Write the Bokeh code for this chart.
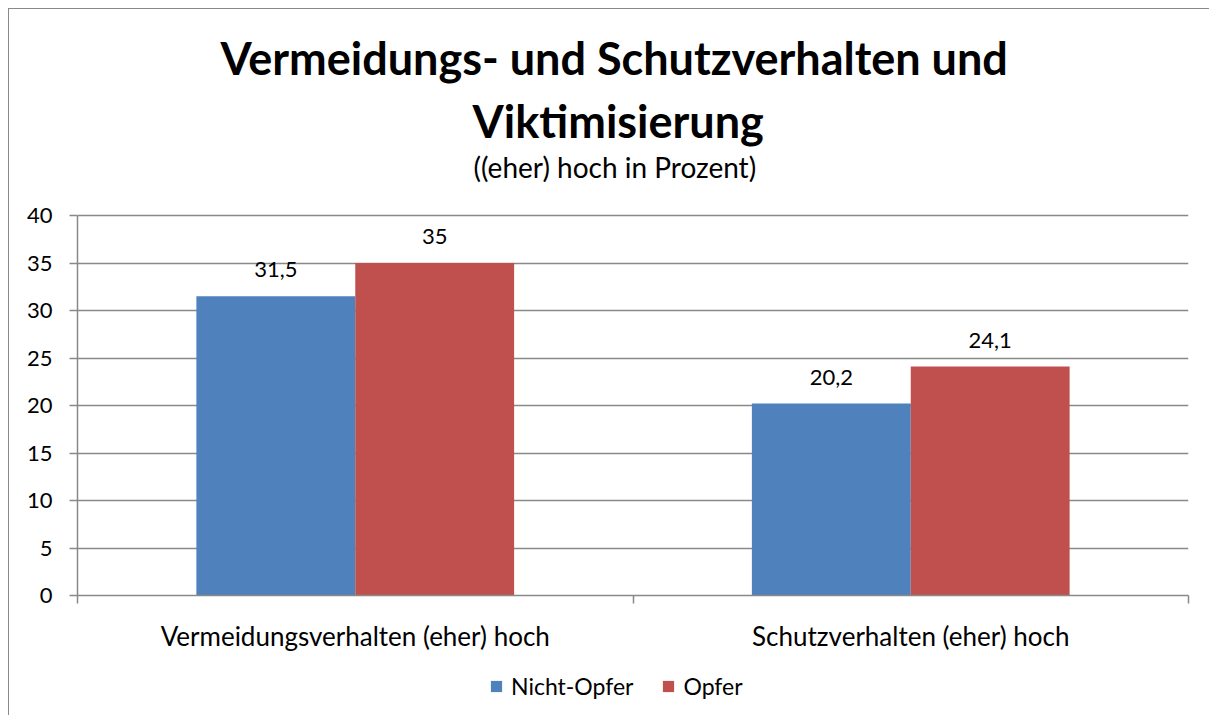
from bokeh.plotting import figure
from bokeh.layouts import column
from bokeh.models import (Range1d, LinearAxis, FixedTicker,
                          ColumnDataSource, LabelSet, Legend, LegendItem, Title)
from bokeh.transform import dodge
from bokeh.core.properties import value
from bokeh.embed import file_html
from bokeh.resources import INLINE

categories = ["Vermeidungsverhalten (eher) hoch", "Schutzverhalten (eher) hoch"]
series_names = ["Nicht-Opfer", "Opfer"]
nicht_opfer = [31.5, 20.2]
opfer = [35.0, 24.1]
y_ticks = [0, 5, 10, 15, 20, 25, 30, 35, 40]

title_line1 = "Vermeidungs- und Schutzverhalten und"
title_line2 = "Viktimisierung"
subtitle = "((eher) hoch in Prozent)"

BLUE = "#4F81BD"
RED = "#C0504D"
GRAY = "#898989"
FONT = "Lato"
Y_VIEW_TOP = 43.37   # view extends a little above the 40 gridline (space below the subtitle)


def fmt(v):
    return f"{v:g}".replace(".", ",")


n = len(categories)
centers = [i + 0.5 for i in range(n)]

src = ColumnDataSource(dict(
    x=centers,
    cat=categories,
    nicht=nicht_opfer,
    opfer=opfer,
    nicht_lbl=[fmt(v) for v in nicht_opfer],
    opfer_lbl=[fmt(v) for v in opfer],
))

p = figure(x_range=Range1d(0, n), y_range=Range1d(0, Y_VIEW_TOP),
           width=1200, height=656, output_backend="svg", toolbar_location=None,
           x_axis_location=None, min_border_left=68, min_border_right=21,
           min_border_top=174, min_border_bottom=70)
p.outline_line_color = None
p.background_fill_color = "white"
p.border_fill_color = "white"
p.xgrid.grid_line_color = None

# y axis
p.yaxis.ticker = FixedTicker(ticks=y_ticks)
p.yaxis.bounds = (y_ticks[0], y_ticks[-1])
p.yaxis.axis_line_color = GRAY
p.yaxis.axis_line_width = 1.5
p.yaxis.major_tick_line_color = GRAY
p.yaxis.major_tick_line_width = 1.5
p.yaxis.major_tick_out = 8
p.yaxis.major_tick_in = 0
p.yaxis.minor_tick_line_color = None
p.yaxis.major_label_text_font = FONT
p.yaxis.major_label_text_font_size = "22px"
p.yaxis.major_label_text_color = "black"
p.yaxis.major_label_standoff = 17
p.ygrid.grid_line_color = GRAY
p.ygrid.grid_line_width = 1.5

# x axes: tick-only axis at category boundaries + label axis at category centres
tick_axis = LinearAxis(ticker=FixedTicker(ticks=list(range(n + 1))),
                       major_label_overrides={i: "" for i in range(n + 1)},
                       major_label_text_font_size="1px", major_label_standoff=0,
                       major_tick_out=8, major_tick_in=0, minor_tick_line_color=None,
                       axis_line_color=GRAY, axis_line_width=1.5,
                       major_tick_line_color=GRAY, major_tick_line_width=1.5)
label_axis = LinearAxis(ticker=FixedTicker(ticks=centers),
                        major_label_overrides={c: cat for c, cat in zip(centers, categories)},
                        axis_line_color=None, major_tick_line_color=None,
                        minor_tick_line_color=None,
                        major_label_text_font=FONT, major_label_text_font_size="26px",
                        major_label_text_color="black", major_label_standoff=10)
p.add_layout(tick_axis, "below")
p.add_layout(label_axis, "below")

bw = 0.286
r1 = p.vbar(x=dodge("x", -bw / 2), top="nicht", width=bw, source=src,
            fill_color=BLUE, line_color=None)
r2 = p.vbar(x=dodge("x", bw / 2), top="opfer", width=bw, source=src,
            fill_color=RED, line_color=None)

for col, off in (("nicht", -bw / 2), ("opfer", bw / 2)):
    p.add_layout(LabelSet(x=dodge("x", off), y=col, text=col + "_lbl", source=src,
                          y_offset=19, text_align="center", text_baseline="alphabetic",
                          text_font=value(FONT), text_font_size="22px", text_color="black"))

p.add_layout(Title(text=subtitle, align="left", offset=396, text_font=FONT, text_font_size="28px",
                   text_color="black", text_font_style="normal", standoff=0), "above")
p.add_layout(Title(text=title_line2, align="left", offset=395, text_font=FONT, text_font_size="45px",
                   text_color="black", text_font_style="bold", standoff=0), "above")
p.add_layout(Title(text=title_line1, align="left", offset=143, text_font=FONT, text_font_size="45px",
                   text_color="black", text_font_style="bold", standoff=14), "above")

# legend strip below the chart
lp = figure(width=1200, height=50, x_range=p.x_range, y_range=Range1d(0, 1),
            output_backend="svg", toolbar_location=None,
            x_axis_location=None, y_axis_location=None, min_border=0)
lp.outline_line_color = None
lp.background_fill_color = "white"
lp.border_fill_color = "white"
lp.grid.visible = False
lr1 = lp.vbar(x=dodge("x", -bw / 2), top="nicht", width=bw, source=src,
              fill_color=BLUE, line_color=None, visible=False)
lr2 = lp.vbar(x=dodge("x", bw / 2), top="opfer", width=bw, source=src,
              fill_color=RED, line_color=None, visible=False)
legend = Legend(items=[LegendItem(label=series_names[0], renderers=[lr1]),
                       LegendItem(label=series_names[1], renderers=[lr2])],
                orientation="horizontal", location=(412, 15), border_line_color=None,
                background_fill_alpha=0, label_text_color="black",
                inactive_fill_alpha=0,
                label_text_font=FONT, label_text_font_size="23px",
                glyph_width=14, glyph_height=14, label_standoff=8, spacing=28,
                padding=4, margin=0)
lp.add_layout(legend, "center")

layout = column(p, lp, spacing=0,
                styles={"margin-left": "8px", "margin-top": "8px",
                        "border-left": "1.5px solid #898989", "border-top": "1.5px solid #898989"})

open("out.html", "w").write(file_html(layout, INLINE))
